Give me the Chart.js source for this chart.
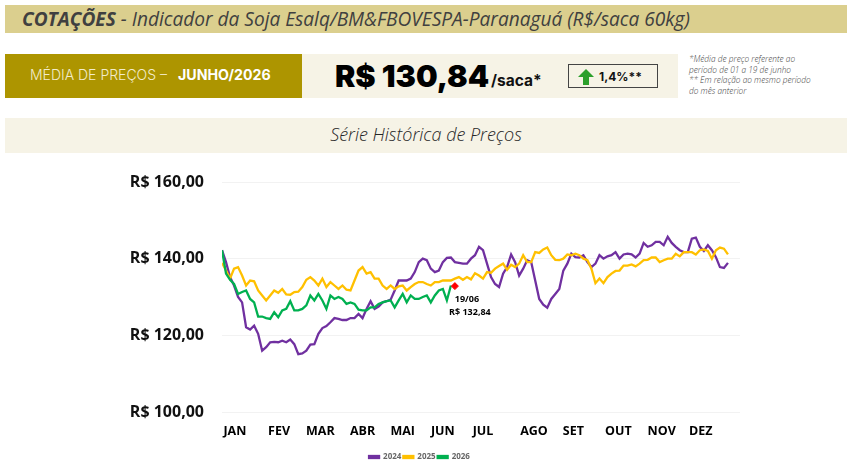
<!DOCTYPE html>
<html lang="pt-BR">
<head>
<meta charset="utf-8">
<title>Cotações</title>
<script src="https://cdn.jsdelivr.net/npm/chart.js@4"></script>
<style>
  html, body { margin: 0; padding: 0; background: #fff; }
  body { width: 853px; height: 476px; position: relative; overflow: hidden; font-family: "Open Sans", sans-serif; }
  .abs { position: absolute; white-space: nowrap; }
  #chart-wrap { position: absolute; left: 0; top: 153px; width: 853px; height: 323px; }
</style>
</head>
<body>
<div class="abs" style="left:5px;top:5px;width:842px;height:28px;background:#dbcf8e"></div>
<div class="abs" style="left:22px;top:6px;font-size:19.1px;line-height:26px;font-style:italic;color:#404040"><span style="font-weight:700">COTAÇÕES</span> - Indicador da Soja Esalq/BM&amp;FBOVESPA-Paranaguá (R$/saca 60kg)</div>

<div class="abs" style="left:5px;top:54px;width:297px;height:44px;background:#ad9500"></div>
<div class="abs" style="left:302px;top:54px;width:376px;height:44px;background:#f6f3e6"></div>
<div class="abs" style="left:30px;top:66px;font-size:14px;line-height:18px;font-weight:300;color:#f3eccb;font-family:Inter">MÉDIA DE PREÇOS –</div>
<div class="abs" style="left:178px;top:66px;font-size:14.2px;line-height:18px;color:#fff;font-weight:700;font-family:Inter">JUNHO/2026</div>
<div class="abs" style="left:335px;top:56px;font-size:30.5px;line-height:40px;color:#000;font-weight:900;font-family:Inter">R$ 130,84</div>
<div class="abs" style="left:491px;top:71px;font-size:15.5px;line-height:20px;color:#111;font-weight:700;font-family:Inter">/saca*</div>
<div class="abs" style="left:568px;top:64px;width:88px;height:22px;border:1px solid #444"></div>
<svg class="abs" style="left:577px;top:69px" width="18" height="17" viewBox="0 0 18 17"><polygon points="9,0 17,8 12,8 12,16 6,16 6,8 1,8" fill="#2ca02c"/></svg>
<div class="abs" style="left:599px;top:68px;font-size:12px;line-height:18px;color:#111;font-weight:700;font-family:Inter">1,4%**</div>
<div class="abs" style="left:689px;top:54px;font-size:8.3px;line-height:10.7px;font-style:italic;font-weight:300;color:#404040">*Média de preço referente ao<br>período de 01 a 19 de junho<br>** Em relação ao mesmo período<br>do mês anterior</div>

<div class="abs" style="left:5px;top:118px;width:842px;height:35px;background:#f6f3e6"></div>
<div class="abs" style="left:5px;top:121px;width:842px;text-align:center;font-size:18px;line-height:26px;font-style:italic;font-weight:300;color:#262626">Série Histórica de Preços</div>

<div id="chart-wrap"><canvas id="chart"></canvas></div>

<script>
// === Data ===
const monthLabels = ["JAN", "FEV", "MAR", "ABR", "MAI", "JUN", "JUL", "AGO", "SET", "OUT", "NOV", "DEZ"];
const monthTicks = [3.2, 14.2, 24.5, 35, 45, 55, 65, 77.7, 87.5, 98.7, 109.5, 119.2];
const priceTicks = [100, 120, 140, 160];

const series2024 = [142.2, 139.1, 135.2, 133.0, 130.0, 128.6, 122.1, 121.5, 122.5, 120.4, 116.0, 116.9, 118.2, 118.3, 118.2, 118.6, 118.2, 118.9, 117.7, 115.1, 115.3, 116.0, 117.6, 117.7, 120.4, 121.9, 122.4, 123.4, 124.5, 124.3, 124.0, 124.0, 124.5, 124.5, 125.6, 124.5, 126.9, 128.9, 126.9, 127.5, 128.6, 128.9, 129.3, 131.7, 134.3, 134.3, 134.3, 134.8, 136.5, 139.1, 140.0, 139.6, 137.4, 136.5, 136.9, 139.1, 140.2, 140.3, 139.1, 138.9, 138.7, 138.7, 140.0, 140.9, 143.1,
  142.2, 138.7, 135.2, 133.4, 132.6, 136.1, 137.8, 141.1, 139.1, 135.6, 137.4, 139.6, 139.1, 134.3, 129.5, 128.0, 127.2, 129.5, 130.8, 132.1, 136.9, 138.7, 141.3, 140.4, 140.3, 140.9, 139.1, 137.8, 138.7, 140.9, 140.0, 140.6, 140.9, 141.7, 140.0, 141.1, 141.3, 141.1, 140.3, 141.3, 144.1, 143.1, 143.5, 144.4, 144.4, 143.5, 145.7, 144.1, 143.1, 142.2, 141.7, 141.7, 145.2, 145.5, 143.1, 142.0, 143.5, 142.2, 140.4, 137.8, 137.6, 138.9];
const series2025 = [138.9, 136.9, 134.8, 137.4, 137.8, 135.6, 133.0, 134.3, 134.1, 131.7, 130.4, 129.1, 130.4, 131.7, 131.1, 132.1, 130.7, 130.6, 131.3, 131.4, 132.6, 134.5, 135.2, 134.3, 133.0, 134.8, 132.6, 133.9, 133.0, 132.1, 133.0, 131.9, 131.7, 134.3, 136.9, 137.8, 136.1, 136.5, 134.8, 134.8, 133.0, 132.1, 133.0, 132.1, 132.8, 133.0, 131.7, 132.6, 133.4, 133.9, 133.9, 133.4, 133.0, 133.9, 133.9, 134.3, 134.3, 134.3, 134.8, 135.2, 134.5, 135.2, 134.6, 136.2, 135.6,
  134.8, 136.5, 136.3, 137.4, 138.1, 138.7, 137.1, 138.4, 137.8, 138.7, 140.9, 139.1, 139.1, 141.7, 141.5, 142.4, 142.9, 140.9, 139.7, 139.6, 140.0, 141.1, 140.9, 141.3, 140.9, 140.0, 139.6, 137.4, 133.6, 134.8, 133.6, 135.2, 136.1, 136.8, 136.9, 138.2, 138.2, 138.5, 138.0, 138.7, 139.6, 139.7, 140.3, 140.3, 139.1, 139.6, 140.0, 140.0, 141.3, 140.6, 141.7, 141.7, 141.7, 141.1, 142.2, 142.4, 142.0, 140.0, 142.2, 142.9, 142.6, 141.1];
const series2026 = [142.2, 136.1, 134.5, 133.4, 130.8, 131.3, 131.7, 129.5, 128.6, 124.9, 124.9, 124.5, 124.3, 126.0, 124.7, 126.5, 126.9, 128.9, 126.5, 126.5, 126.9, 127.8, 130.4, 129.1, 130.8, 129.1, 126.9, 130.4, 129.5, 130.0, 129.5, 128.2, 128.6, 128.2, 126.7, 126.5, 126.5, 127.3, 127.3, 128.2, 128.6, 128.9, 129.1, 127.3, 129.1, 130.8, 128.6, 130.4, 129.5, 129.5, 130.0, 130.4, 128.6, 130.4, 131.7, 132.1, 129.1, 133.0];

const seriesNames = ["2024", "2025", "2026"];
const seriesColors = ["#7030a0", "#ffc000", "#00b050"];
const lastDateLabel = "19/06";
const lastPriceLabel = "R$ 132,84";
const lastPrice = 132.84;
const lastIndex = 58;

function brl(v) {
  return "R$ " + v.toFixed(2).replace(".", ",");
}
function toPoints(values) {
  return values.map((v, i) => ({ x: i, y: v }));
}

// annotation next to the red marker
const lastPointLabel = {
  id: "lastPointLabel",
  afterDatasetsDraw(chart) {
    const x = chart.scales.x.getPixelForValue(lastIndex);
    const y = chart.scales.y.getPixelForValue(lastPrice);
    const ctx = chart.ctx;
    ctx.save();
    ctx.font = "bold 9px 'Open Sans'";
    ctx.fillStyle = "#000";
    ctx.textAlign = "center";
    ctx.textBaseline = "middle";
    ctx.fillText(lastDateLabel, x + 12, y + 13);
    ctx.fillText(lastPriceLabel, x + 15, y + 26);
    ctx.restore();
  }
};

const datasets = [series2024, series2025, series2026].map((values, i) => ({
  label: seriesNames[i],
  data: toPoints(values),
  borderColor: seriesColors[i],
  backgroundColor: seriesColors[i],
  borderWidth: 2.3,
  pointRadius: 0,
  tension: 0,
  order: 3 - i
}));
datasets.push({
  label: "último",
  data: [{ x: lastIndex, y: lastPrice }],
  showLine: false,
  pointStyle: "rectRot",
  pointRadius: 3.5,
  pointBackgroundColor: "#ff0000",
  pointBorderColor: "#ff0000",
  order: 0
});

new Chart(document.getElementById("chart"), {
  type: "line",
  data: { datasets },
  plugins: [lastPointLabel],
  options: {
    responsive: true,
    maintainAspectRatio: false,
    animation: false,
    layout: { padding: { top: 29, right: 14, bottom: 5, left: 0 } },
    plugins: {
      tooltip: { enabled: false },
      legend: {
        position: "bottom",
        labels: {
          boxWidth: 10,
          boxHeight: 2,
          padding: 2,
          color: "#666",
          font: { family: "Open Sans", size: 8, weight: "bold" },
          sort: (a, b) => a.datasetIndex - b.datasetIndex,
          filter: item => seriesNames.includes(item.text)
        }
      }
    },
    scales: {
      x: {
        type: "linear",
        min: 0,
        max: 129,
        grid: { display: false },
        border: { display: false },
        afterBuildTicks(axis) {
          axis.ticks = monthTicks.map(v => ({ value: v }));
        },
        afterFit(axis) { axis.height = 39; },
        ticks: {
          autoSkip: false,
          maxRotation: 0,
          padding: 4,
          color: "#000",
          font: { family: "Open Sans", size: 12.5, weight: "bold" },
          callback: (value, i) => monthLabels[i]
        }
      },
      y: {
        min: 100,
        max: 160,
        afterBuildTicks(axis) {
          axis.ticks = priceTicks.map(v => ({ value: v }));
        },
        afterFit(axis) { axis.width = 222; },
        grid: { color: "#f2f2f2", lineWidth: 1, drawTicks: false },
        border: { display: false },
        ticks: {
          padding: 18,
          color: "#111",
          font: { family: "Open Sans", size: 16, weight: "bold" },
          callback: v => brl(v)
        }
      },
      // keeps room on the right so the legend stays centred on the page
      spacer: {
        position: "right",
        grid: { display: false },
        border: { display: false },
        ticks: { display: false },
        afterFit(axis) { axis.width = 99; }
      }
    }
  }
});
</script>
</body>
</html>
